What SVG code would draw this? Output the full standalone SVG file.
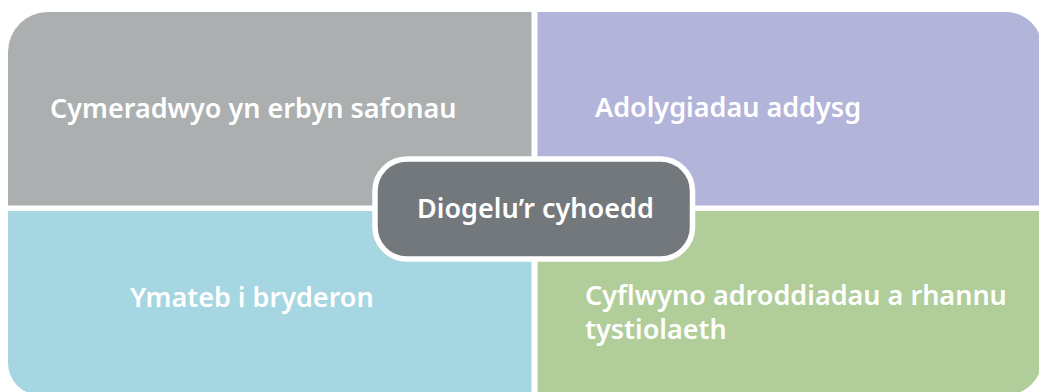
<svg xmlns="http://www.w3.org/2000/svg" width="1039" height="392" viewBox="0 0 1039 392">
<style>
.t{font-family:"Noto Sans","Liberation Sans",sans-serif;font-weight:600;font-size:27px;fill:#ffffff}
</style>
<rect width="1039" height="392" fill="#ffffff"/>
<g id="q-top-left">
<path d="M8,52 A40,40 0 0 1 48,12 L531.5,12 L531.5,205.5 L8,205.5 Z" fill="#abafb0"/>
<text class="t" x="50" y="118">Cymeradwyo yn erbyn safonau</text>
</g>
<g id="q-top-right">
<path d="M537.5,12 L1006,12 A36,36 0 0 1 1042,48 L1042,205.5 L537.5,205.5 Z" fill="#b3b4da"/>
<text class="t" x="595" y="117">Adolygiadau addysg</text>
</g>
<g id="q-bottom-left">
<path d="M8,211 L531.5,211 L531.5,395 L40,395 A32,32 0 0 1 8,363 Z" fill="#a5d6e1"/>
<text class="t" x="130" y="307">Ymateb i bryderon</text>
</g>
<g id="q-bottom-right">
<path d="M537.5,211 L1042,211 L1042,359 A36,36 0 0 1 1006,395 L537.5,395 Z" fill="#b0cd9a"/>
<text class="t"><tspan x="585" y="305">Cyflwyno adroddiadau a rhannu</tspan><tspan x="585" y="338.5">tystiolaeth</tspan></text>
</g>
<g id="connectors"></g>
<g id="center">
<rect x="375" y="159" width="317.5" height="100" rx="32" ry="32" fill="#73787c" stroke="#ffffff" stroke-width="5.5"/>
<text class="t" x="417" y="218">Diogelu’r cyhoedd</text>
</g>
</svg>
